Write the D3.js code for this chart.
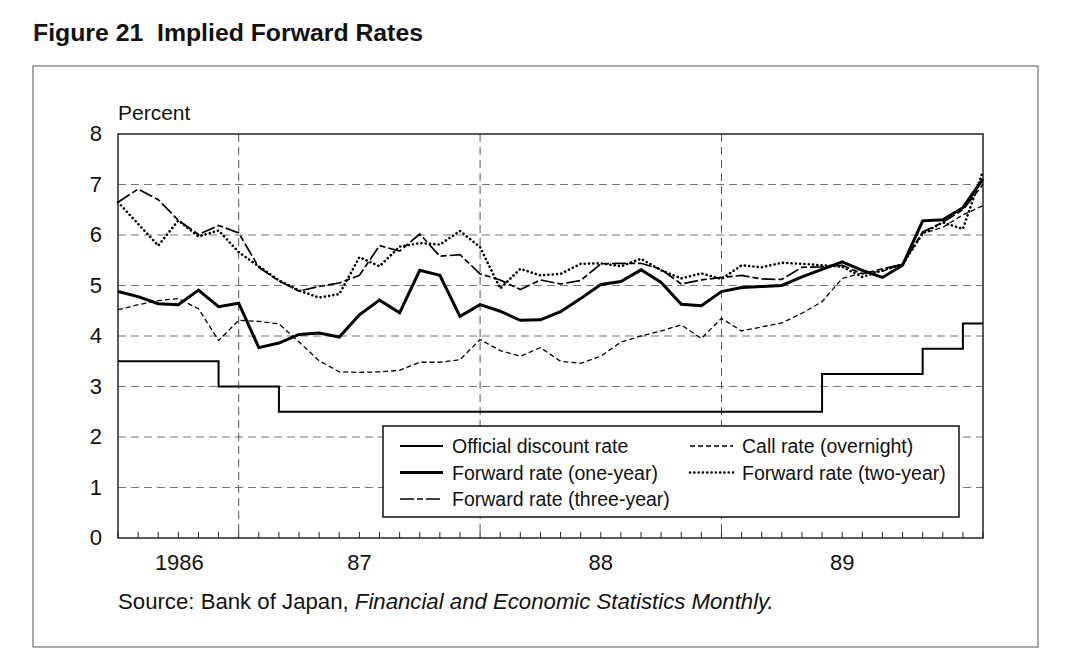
<!DOCTYPE html>
<html>
<head>
<meta charset="utf-8">
<script src="https://cdn.jsdelivr.net/npm/d3@7"></script>
<style>
body { margin: 0; background: #fff; }
svg text { font-family: "Liberation Sans", Arial, sans-serif; fill: #111; white-space: pre; }
</style>
</head>
<body>
<div id="main"></div>
<script>
// months Jun 1986 .. Jan 1990, one point per month
var month_index = d3.range(44);

var discount_rate = [3.5,3.5,3.5,3.5,3.5,3.0,3.0,3.0,2.5,2.5,2.5,2.5,2.5,2.5,2.5,2.5,2.5,2.5,2.5,2.5,2.5,2.5,2.5,2.5,2.5,2.5,2.5,2.5,2.5,2.5,2.5,2.5,2.5,2.5,2.5,3.25,3.25,3.25,3.25,3.25,3.75,3.75,4.25,4.25];
var call_rate = [4.52,4.62,4.70,4.74,4.54,3.91,4.31,4.29,4.24,3.88,3.51,3.29,3.28,3.29,3.32,3.48,3.48,3.53,3.93,3.71,3.60,3.77,3.50,3.46,3.60,3.88,4.00,4.10,4.22,3.95,4.35,4.10,4.18,4.26,4.45,4.68,5.14,5.25,5.28,5.43,6.03,6.15,6.40,6.58];
var fwd_one = [4.88,4.78,4.64,4.62,4.91,4.58,4.65,3.77,3.86,4.03,4.06,3.98,4.42,4.71,4.46,5.30,5.20,4.39,4.62,4.49,4.31,4.32,4.48,4.74,5.02,5.08,5.31,5.06,4.63,4.60,4.88,4.96,4.98,5.00,5.17,5.32,5.47,5.30,5.16,5.40,6.28,6.30,6.54,7.11];
var fwd_two = [6.65,6.22,5.79,6.29,5.97,6.09,5.66,5.38,5.10,4.90,4.76,4.83,5.56,5.38,5.77,5.84,5.81,6.08,5.76,4.94,5.33,5.20,5.23,5.43,5.44,5.38,5.53,5.30,5.14,5.24,5.13,5.40,5.36,5.45,5.43,5.40,5.37,5.17,5.30,5.42,6.03,6.25,6.12,7.27];
var fwd_three = [6.65,6.91,6.70,6.29,6.01,6.19,6.04,5.36,5.09,4.89,4.98,5.05,5.20,5.79,5.68,6.02,5.58,5.61,5.23,5.11,4.92,5.11,5.03,5.10,5.43,5.44,5.44,5.32,5.03,5.11,5.16,5.20,5.13,5.12,5.36,5.37,5.40,5.23,5.33,5.42,6.06,6.25,6.50,7.00];

var y_ticks = [0,1,2,3,4,5,6,7,8];
var year_lines = [6,18,30];
var year_labels = ["1986","87","88","89"];
var year_label_pos = [3.05,12,24,36];

var W = 1080, H = 657;
var plot_left = 118, plot_right = 983, plot_top = 134, plot_bottom = 538;

var svg = d3.select("#main").append("svg").attr("width",W).attr("height",H);

var x = d3.scaleLinear().domain([0,43]).range([plot_left,plot_right]);
var y = d3.scaleLinear().domain([0,8]).range([plot_bottom,plot_top]);

// title + outer frame
svg.append("text").attr("x",33).attr("y",41).text("Figure 21  Implied Forward Rates")
	.style("font-size","24.8px").style("font-weight","bold");
svg.append("rect").attr("x",33).attr("y",66).attr("width",1005).attr("height",581)
	.attr("fill","none").attr("stroke","#555").attr("stroke-width",1);

// grid
svg.append("g").selectAll("line").data(y_ticks.filter(function(d){return d>0 && d<8;})).enter()
	.append("line").attr("x1",plot_left).attr("x2",plot_right)
	.attr("y1",function(d){return y(d);}).attr("y2",function(d){return y(d);})
	.attr("stroke","#777").attr("stroke-width",1).attr("stroke-dasharray","8,5");
svg.append("g").selectAll("line").data(year_lines).enter()
	.append("line").attr("y1",plot_top).attr("y2",plot_bottom)
	.attr("x1",function(d){return x(d);}).attr("x2",function(d){return x(d);})
	.attr("stroke","#555").attr("stroke-width",1).attr("stroke-dasharray","8,5");

// month ticks
svg.append("g").selectAll("line").data(month_index).enter()
	.append("line").attr("y1",plot_bottom).attr("y2",plot_bottom-6)
	.attr("x1",function(d){return x(d);}).attr("x2",function(d){return x(d);})
	.attr("stroke","#222").attr("stroke-width",1);

// frame of plot
svg.append("rect").attr("x",plot_left).attr("y",plot_top).attr("width",plot_right-plot_left).attr("height",plot_bottom-plot_top)
	.attr("fill","none").attr("stroke","#222").attr("stroke-width",1.5);

// y labels
svg.append("g").selectAll("text").data(y_ticks).enter()
	.append("text").attr("x",102).attr("y",function(d){return y(d)+7;})
	.attr("text-anchor","end").style("font-size","22px").text(function(d){return d;});
svg.append("text").attr("x",118).attr("y",120).style("font-size","21px").text("Percent");

// x labels
svg.append("g").selectAll("text").data(year_labels).enter()
	.append("text").attr("x",function(d,i){return x(year_label_pos[i]);}).attr("y",570)
	.attr("text-anchor","middle").style("font-size","22px").text(function(d){return d;});

// series
var series = [
	{name:"Official discount rate", values:discount_rate, width:2, dash:null, step:true},
	{name:"Call rate (overnight)", values:call_rate, width:1.3, dash:"5,3", step:false},
	{name:"Forward rate (one-year)", values:fwd_one, width:3, dash:null, step:false},
	{name:"Forward rate (two-year)", values:fwd_two, width:2.6, dash:"0.1,4.2", step:false, round:true},
	{name:"Forward rate (three-year)", values:fwd_three, width:1.7, dash:"14,3,6,3", step:false}
];

function draw_series(s){
	var line = d3.line()
		.x(function(d,i){return x(i);})
		.y(function(d){return y(d);})
		.curve(s.step ? d3.curveStepAfter : d3.curveLinear);
	var path = svg.append("path").datum(s.values).attr("d",line)
		.attr("fill","none").attr("stroke","#000").attr("stroke-width",s.width)
		.attr("stroke-linejoin","miter");
	if (s.dash) path.attr("stroke-dasharray",s.dash);
	if (s.round) path.attr("stroke-linecap","round");
}
series.forEach(draw_series);

// legend
var legend = svg.append("g");
legend.append("rect").attr("x",383).attr("y",426).attr("width",576).attr("height",91)
	.attr("fill","#fff").attr("stroke","#111").attr("stroke-width",1.5);
var legend_pos = [
	{s:0,x:400,row:0},{s:2,x:400,row:1},{s:4,x:400,row:2},
	{s:1,x:690,row:0},{s:3,x:690,row:1}
];
legend_pos.forEach(function(p){
	var s = series[p.s];
	var cy = 446 + p.row*26.5;
	var l = legend.append("line").attr("x1",p.x).attr("x2",p.x+43).attr("y1",cy).attr("y2",cy)
		.attr("stroke","#000").attr("stroke-width",s.width);
	if (s.dash) l.attr("stroke-dasharray",s.dash);
	if (s.round) l.attr("stroke-linecap","round");
	legend.append("text").attr("x",p.x+52).attr("y",cy+7).style("font-size","19.5px").text(s.name);
});

// source
var src = svg.append("text").attr("x",118).attr("y",609).style("font-size","22.2px");
src.append("tspan").text("Source: Bank of Japan, ");
src.append("tspan").style("font-style","italic").text("Financial and Economic Statistics Monthly.");
</script>
</body>
</html>
